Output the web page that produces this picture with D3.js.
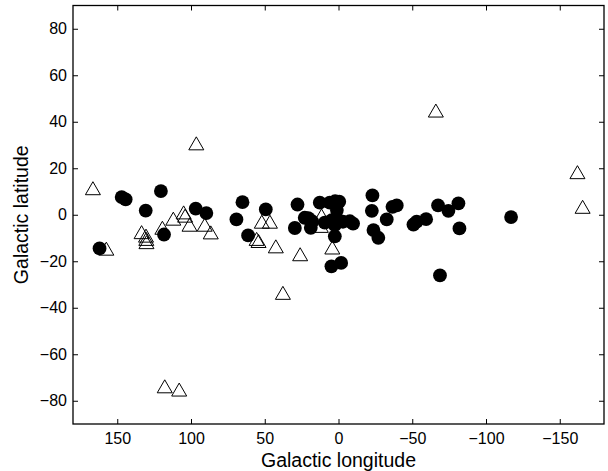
<!DOCTYPE html>
<html>
<head>
<meta charset="utf-8">
<script src="https://d3js.org/d3.v7.min.js"></script>
<style>
  body { margin: 0; background: #fff; }
  text { font-family: "Liberation Sans", Arial, sans-serif; }
</style>
</head>
<body>
<script>
// filled circles: [longitude, latitude]
var circleLon = [162, 147, 144.3, 130.7, 120.4, 118.3, 96.8, 89.6, 69.2, 65.1, 61.3, 49.3,
  27.8, 29.6, 22.9, 20.5, 17.9, 18.8, 12.7, 5.9, 2.3, -0.5, 9.3, 4.5, 1.1, 0, 2.5, -3, -7.7, -9.9,
  2.5, 4.8, -1.8, -23, -22.6, -23.7, -27, -32.7, -36.6, -39.5, -50.8, -53, -59.4, -67.5, -74.5,
  -81.3, -82, -68.8, -117];
var circleLat = [-14.5, 7.6, 6.6, 1.8, 10.2, -8.5, 2.6, 0.7, -2.0, 5.4, -8.9, 2.3,
  4.4, -5.7, -1.3, -1.5, -2.8, -5.6, 5.2, 5.2, 5.8, 5.6, -3.4, -2.3, 2.0, -2.3, -4.5, -3, -2.8, -3.8,
  -9.3, -22.2, -20.7, 8.3, 1.7, -6.6, -9.9, -2.0, 3.4, 4.0, -4.2, -3.0, -1.9, 4.0, 1.7,
  4.9, -5.9, -26.1, -1.0];

// open triangles: [longitude, latitude]
var triLon = [166.5, 157.4, 133.5, 130.5, 130.3, 130.2, 119.4, 112, 105, 104, 101, 96.4, 90.7,
  86.6, 117.8, 108, 55.5, 54.2, 52, 46.5, 42.5, 37.7, 26, 11.5, 12, 4.2, -66, -162, -165.5];
var triLat = [11.2, -14.8, -7.7, -9.2, -10.6, -12, -5.8, -1.9, 0.8, -0.6, -4.5, 30.5, -4.5,
  -7.8, -74, -75.4, -10.6, -11.5, -3.2, -3.2, -13.8, -33.8, -17.2, -0.5, -5, -14.3, 44.6, 18.1, 3.2];

var xTicks = [150, 100, 50, 0, -50, -100, -150];
var yTicks = [-80, -60, -40, -20, 0, 20, 40, 60, 80];

var width = 608, height = 471;
var pLeft = 73, pRight = 604, pTop = 5.5, pBottom = 424;

var svg = d3.select('body').append('svg')
  .attr('width', width)
  .attr('height', height);

var x = d3.scaleLinear().domain([180, -180]).range([pLeft, pRight]);
var y = d3.scaleLinear().domain([-90, 90]).range([pBottom, pTop]);

function fmt(d) { return d < 0 ? '\u2212' + Math.abs(d) : '' + d; }

function styleAxis(g) {
  g.select('.domain').remove();
  g.selectAll('.tick line').attr('stroke', '#000');
  g.selectAll('.tick text').attr('fill', '#000').style('font-size', '16px');
}

svg.append('g')
  .attr('transform', 'translate(0,' + pBottom + ')')
  .call(d3.axisBottom(x).tickValues(xTicks).tickFormat(fmt).tickSize(-5).tickPadding(9))
  .call(styleAxis);
svg.append('g')
  .attr('transform', 'translate(0,' + pTop + ')')
  .call(d3.axisTop(x).tickValues(xTicks).tickFormat('').tickSize(-5))
  .call(styleAxis);
svg.append('g')
  .attr('transform', 'translate(' + pLeft + ',0)')
  .call(d3.axisLeft(y).tickValues(yTicks).tickFormat(fmt).tickSize(-5).tickPadding(6))
  .call(styleAxis);
svg.append('g')
  .attr('transform', 'translate(' + pRight + ',0)')
  .call(d3.axisRight(y).tickValues(yTicks).tickFormat('').tickSize(-5))
  .call(styleAxis);

svg.append('rect')
  .attr('x', pLeft).attr('y', pTop)
  .attr('width', pRight - pLeft).attr('height', pBottom - pTop)
  .attr('fill', 'none').attr('stroke', '#000').attr('stroke-width', 1.3);

var tris = d3.range(triLon.length);
svg.selectAll('path.tri')
  .data(tris)
  .enter()
  .append('path')
  .attr('class', 'tri')
  .attr('d', function(i) {
    var cx = x(triLon[i]), cy = y(triLat[i]);
    return 'M' + cx + ',' + (cy - 7) + 'L' + (cx + 7.5) + ',' + (cy + 6) + 'L' + (cx - 7.5) + ',' + (cy + 6) + 'Z';
  })
  .attr('fill', 'none')
  .attr('stroke', '#000')
  .attr('stroke-width', 1);

var dots = d3.range(circleLon.length);
svg.selectAll('circle')
  .data(dots)
  .enter()
  .append('circle')
  .attr('cx', function(i) { return x(circleLon[i]); })
  .attr('cy', function(i) { return y(circleLat[i]); })
  .attr('r', 6.9)
  .attr('fill', '#000');

svg.append('text')
  .attr('x', (pLeft + pRight) / 2)
  .attr('y', 467)
  .attr('text-anchor', 'middle')
  .style('font-size', '19.5px')
  .text('Galactic longitude');

svg.append('text')
  .attr('transform', 'translate(28,' + ((pTop + pBottom) / 2) + ') rotate(-90)')
  .attr('text-anchor', 'middle')
  .style('font-size', '19.5px')
  .text('Galactic latitude');
</script>
</body>
</html>
